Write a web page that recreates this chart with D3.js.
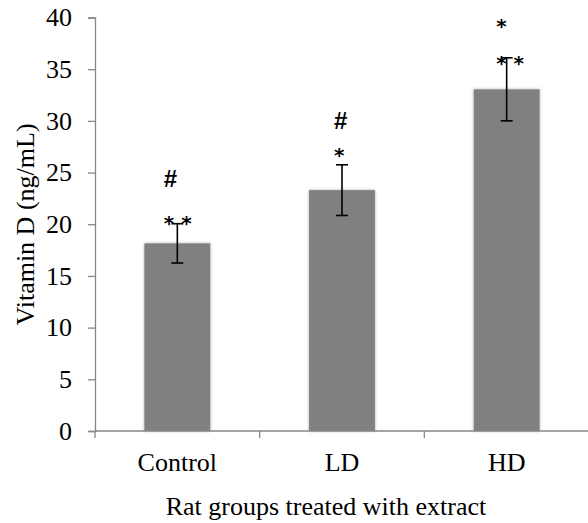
<!DOCTYPE html>
<meta charset="utf-8">
<script src="https://d3js.org/d3.v7.min.js"></script>
<style>
  body { margin: 0; background: #fff; }
  svg text { font-family: "Liberation Serif", "Times New Roman", serif; fill: #000; }
  .hash { font-family: "Liberation Sans", Arial, sans-serif; font-size: 24px; font-weight: bold; }
  .star { font-family: "DejaVu Sans", sans-serif; font-size: 20px; font-weight: bold; }
</style>
<div id="chart"></div>
<script>
// data
var groups = ["Control", "LD", "HD"];
var means = [18.15, 23.3, 33.05];
var errs = [1.9, 2.45, 3.05];
var yTicks = [0, 5, 10, 15, 20, 25, 30, 35, 40];

// significance marks, y given as baseline in data units
var annoGroup = ["Control", "Control", "LD", "LD", "HD", "HD"];
var annoText = ["#", "* *", "#", "*", "*", "* *"];
var annoY = [23.6, 19.4, 29.2, 26.0, 38.5, 34.9];

var W = 588, H = 523;
var left = 95, right = 589, top_ = 17.5, bottom = 431;
// left edge of mark text, relative to bar centre
var annoDx = { "Control": -13.5, "LD": -8, "HD": -10.5 };

var svg = d3.select("#chart").append("svg")
    .attr("width", W)
    .attr("height", H);

var defs = svg.append("defs");
var f = defs.append("filter").attr("id", "shade")
    .attr("x", "-20%").attr("y", "-5%").attr("width", "140%").attr("height", "110%");
f.append("feDropShadow")
    .attr("dx", 0).attr("dy", 0)
    .attr("stdDeviation", 1.6)
    .attr("flood-color", "#000")
    .attr("flood-opacity", 0.35);

var x = d3.scaleBand()
    .domain(groups)
    .range([left, right])
    .paddingInner(0.6)
    .paddingOuter(0.3);

var y = d3.scaleLinear()
    .domain([0, 40])
    .range([bottom, top_]);

var axisColor = "#868686";

// y axis
var gy = svg.append("g")
    .attr("transform", "translate(" + left + ",0)")
    .call(d3.axisLeft(y).tickValues(yTicks).tickSize(7).tickPadding(16));
gy.select(".domain").attr("stroke", axisColor).attr("stroke-width", 1.3);
gy.selectAll(".tick line").attr("stroke", axisColor).attr("stroke-width", 1.3);
gy.selectAll(".tick text")
    .attr("font-family", "Liberation Serif")
    .attr("font-size", 26)
    .attr("fill", "#000");

// bars
svg.append("g")
  .selectAll("rect")
  .data(groups)
  .enter()
  .append("rect")
    .attr("x", function(d) { return x(d); })
    .attr("width", x.bandwidth())
    .attr("y", function(d, i) { return y(means[i]); })
    .attr("height", function(d, i) { return y(0) - y(means[i]); })
    .attr("fill", "#808080")
    .attr("filter", "url(#shade)");

// x axis (ticks on category boundaries)
var step = x.step();
var bounds = groups.map(function(g) { return x(g) + x.bandwidth() / 2 - step / 2; });
bounds.push(right);
svg.append("line")
    .attr("x1", left).attr("x2", W + 2)
    .attr("y1", y(0)).attr("y2", y(0))
    .attr("stroke", axisColor).attr("stroke-width", 1.3);
svg.append("g")
  .selectAll("line")
  .data(bounds)
  .enter()
  .append("line")
    .attr("x1", function(d) { return d; })
    .attr("x2", function(d) { return d; })
    .attr("y1", y(0))
    .attr("y2", y(0) + 7)
    .attr("stroke", axisColor).attr("stroke-width", 1.3);
svg.append("g")
  .selectAll("text")
  .data(groups)
  .enter()
  .append("text")
    .attr("x", function(d) { return x(d) + x.bandwidth() / 2; })
    .attr("y", y(0) + 40)
    .attr("text-anchor", "middle")
    .attr("font-size", 26)
    .text(function(d) { return d; });

// error bars
var eb = svg.append("g").attr("stroke", "#000").attr("stroke-width", 1.6);
groups.forEach(function(g, i) {
  var cx = x(g) + x.bandwidth() / 2;
  var hi = y(means[i] + errs[i]), lo = y(means[i] - errs[i]);
  eb.append("line").attr("x1", cx).attr("x2", cx).attr("y1", hi).attr("y2", lo);
  eb.append("line").attr("x1", cx - 6).attr("x2", cx + 6).attr("y1", hi).attr("y2", hi);
  eb.append("line").attr("x1", cx - 6).attr("x2", cx + 6).attr("y1", lo).attr("y2", lo);
});

// significance marks
svg.append("g")
  .selectAll("text")
  .data(annoText)
  .enter()
  .append("text")
    .attr("class", function(d) { return d === "#" ? "hash" : "star"; })
    .attr("x", function(d, i) { var g = annoGroup[i]; return x(g) + x.bandwidth() / 2 + annoDx[g]; })
    .attr("y", function(d, i) { return y(annoY[i]); })
    .attr("text-anchor", "start")
    .style("white-space", "pre")
    .text(function(d) { return d; });

// axis titles
svg.append("text")
    .attr("transform", "rotate(-90)")
    .attr("x", -224.5)
    .attr("y", 34)
    .attr("text-anchor", "middle")
    .attr("font-size", 26)
    .text("Vitamin D (ng/mL)");

svg.append("text")
    .attr("x", 326)
    .attr("y", 515)
    .attr("text-anchor", "middle")
    .attr("font-size", 26)
    .text("Rat groups treated with extract");
</script>
